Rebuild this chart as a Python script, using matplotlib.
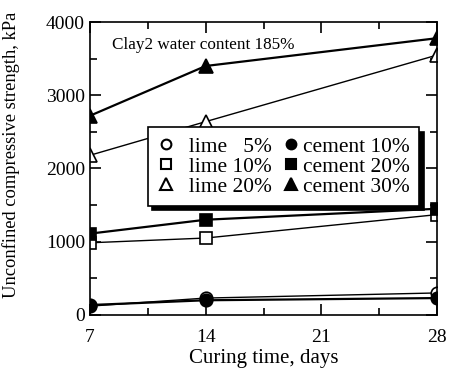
import matplotlib
matplotlib.use('Agg')
import matplotlib.pyplot as plt
from matplotlib.lines import Line2D
from matplotlib.ticker import MultipleLocator

plt.rcParams['font.family'] = ['Liberation Serif', 'DejaVu Serif']

days = [7, 14, 28]
lime5 = [120, 230, 300]
lime10 = [985, 1050, 1370]
lime20 = [2180, 2640, 3550]
cement10 = [135, 200, 230]
cement20 = [1110, 1300, 1450]
cement30 = [2720, 3400, 3780]

labels = ['  lime   5%', '  lime 10%', '  lime 20%', 'cement 10%', 'cement 20%', 'cement 30%']
series = [lime5, lime10, lime20, cement10, cement20, cement30]
markers = ['o', 's', '^', 'o', 's', '^']
fills = ['white', 'white', 'white', 'black', 'black', 'black']
widths = [1, 1, 1, 1.6, 1.6, 1.6]

fig = plt.figure(figsize=(4.54, 3.74), dpi=100)
ax = fig.add_axes([0.198, 0.158, 0.765, 0.783])

handles = []
for vals, m, fc, lw, lab in zip(series, markers, fills, widths, labels):
    ms = 10 if m == '^' else 9
    ax.plot(days, vals, color='black', marker=m, mfc=fc, mec='black', mew=1.2, ms=ms, lw=lw)
    handles.append(Line2D([], [], ls='none', marker=m, mfc=fc, mec='black', mew=1.5,
                          ms=ms - 2, label=lab))

ax.set_xlim(7, 28)
ax.set_ylim(0, 4000)
ax.set_xticks([7, 14, 21, 28])
ax.xaxis.set_minor_locator(MultipleLocator(3.5))
ax.yaxis.set_major_locator(MultipleLocator(1000))
ax.yaxis.set_minor_locator(MultipleLocator(500))
ax.tick_params(which='both', direction='in', top=True, right=True, labelsize=14, width=1.2)
ax.tick_params(which='major', length=8)
ax.tick_params(which='minor', length=5)
ax.tick_params(axis='x', pad=10)
for s in ax.spines.values():
    s.set_linewidth(1.2)

ax.set_xlabel('Curing time, days', fontsize=15, labelpad=2)
ax.set_ylabel('Unconfined compressive strength, kPa', fontsize=13.3)
ax.yaxis.set_label_coords(-0.2, 0.548)
ax.text(0.065, 0.95, 'Clay2 water content 185%', transform=ax.transAxes, fontsize=12.3, va='top')

leg = ax.legend(handles=handles, ncol=2, loc='upper left', bbox_to_anchor=(0.167, 0.64),
                borderaxespad=0, fontsize=15.4, frameon=True, fancybox=False,
                shadow={'color': 'black', 'alpha': 1, 'ox': 3, 'oy': -3},
                handletextpad=0.2, columnspacing=0.45, labelspacing=0.0,
                handlelength=0.8, borderpad=0.43, edgecolor='black')
leg.get_frame().set_linewidth(1.2)
leg.get_frame().set_alpha(1)
fig.savefig('out.png', dpi=100)
